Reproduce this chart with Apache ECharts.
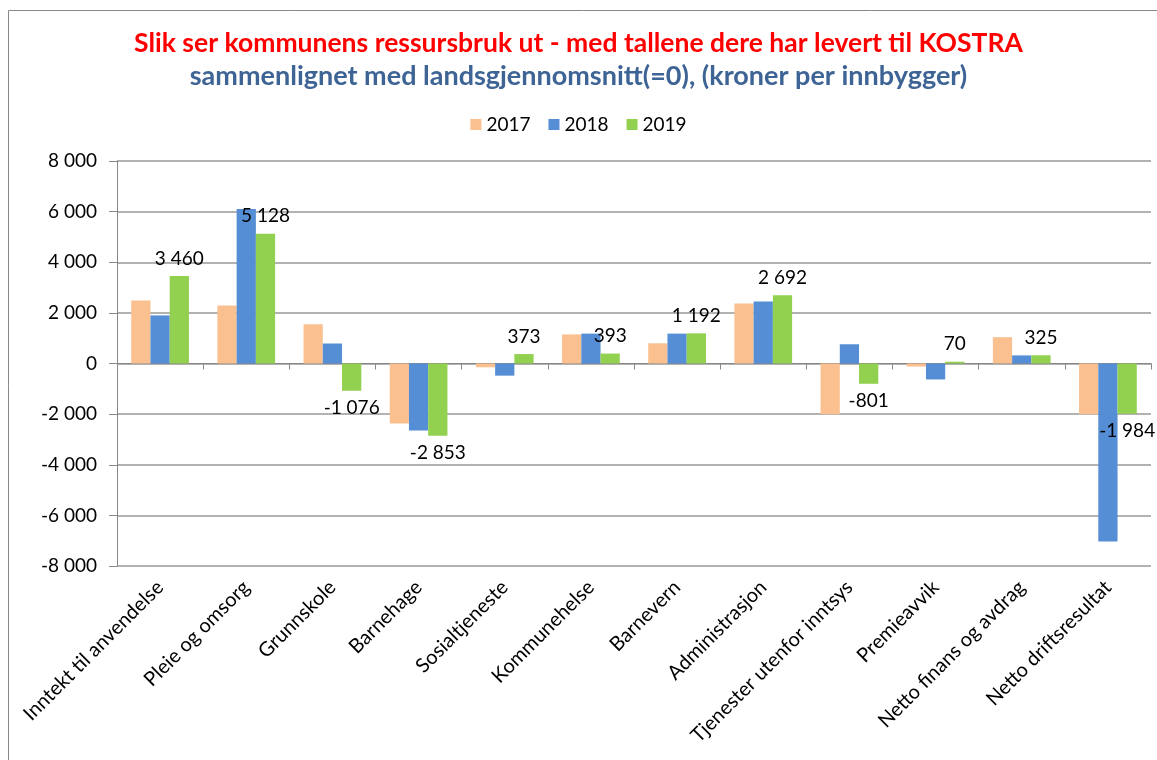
<!DOCTYPE html>
<html>
<head>
<meta charset="utf-8">
<script src="https://cdn.jsdelivr.net/npm/echarts@6/dist/echarts.min.js"></script>
<style>
    html, body { margin: 0; padding: 0; background: #fff; }
    #chart { width: 1157px; height: 760px; }
</style>
</head>
<body>
<div id="chart"></div>
<script>
// kategorier og verdier (kroner per innbygger, avvik fra landsgjennomsnitt)
const categories = ['Inntekt til anvendelse', 'Pleie og omsorg', 'Grunnskole', 'Barnehage',
    'Sosialtjeneste', 'Kommunehelse', 'Barnevern', 'Administrasjon',
    'Tjenester utenfor inntsys', 'Premieavvik', 'Netto finans og avdrag', 'Netto driftsresultat']
const years = ['2017', '2018', '2019']
const v2017 = [2490, 2290, 1550, -2370, -150, 1150, 800, 2370, -2000, -120, 1040, -2000]
const v2018 = [1900, 6100, 790, -2650, -480, 1180, 1180, 2450, 760, -630, 320, -7030]
const v2019 = [3460, 5128, -1076, -2853, 373, 393, 1192, 2692, -801, 70, 325, -1984]
const yTicks = [-8000, -6000, -4000, -2000, 0, 2000, 4000, 6000, 8000]

const colors = ['#FAC090', '#558ED5', '#92D050']
const font = 'Lato, "Open Sans", sans-serif'

// tusenskille med mellomrom, som i Excel
const fmt = (v) => {
    const s = Math.abs(v).toString().replace(/\B(?=(\d{3})+(?!\d))/g, ' ')
    return (v < 0 ? '-' : '') + s
}

const chart = echarts.init(document.getElementById('chart'))
chart.setOption({
    animation: false,
    color: colors,
    textStyle: { fontFamily: font },
    graphic: [{
        type: 'rect',
        shape: { x: 8.5, y: 10.5, width: 1300, height: 900 },
        style: { fill: 'none', stroke: '#888', lineWidth: 1 },
        silent: true
    }],
    title: [
        {
            text: 'Slik ser kommunens ressursbruk ut - med tallene dere har levert til KOSTRA',
            left: 'center', top: 25,
            textStyle: { color: '#FF0000', fontSize: 26.5, fontWeight: 'bold', fontFamily: font }
        },
        {
            text: 'sammenlignet med landsgjennomsnitt(=0), (kroner per innbygger)',
            left: 'center', top: 58,
            textStyle: { color: '#3E6496', fontSize: 27, fontWeight: 'bold', fontFamily: font }
        }
    ],
    legend: {
        data: years,
        top: 110,
        left: 'center',
        itemWidth: 11,
        itemHeight: 11,
        itemGap: 18,
        icon: 'rect',
        textStyle: { fontSize: 19, color: '#000', fontFamily: font }
    },
    grid: { left: 117, right: 6, top: 161, bottom: 194, containLabel: false },
    xAxis: {
        type: 'category',
        data: categories,
        axisLine: { onZero: true, lineStyle: { color: '#888' } },
        axisTick: { show: true, length: 6, lineStyle: { color: '#888' } },
        axisLabel: {
            interval: 0,
            rotate: 45,
            fontSize: 20,
            color: '#000',
            fontFamily: font,
            margin: 18
        },
        position: 'bottom'
    },
    yAxis: {
        type: 'value',
        min: yTicks[0],
        max: yTicks[yTicks.length - 1],
        interval: 2000,
        axisLine: { show: true, lineStyle: { color: '#888' } },
        axisTick: { show: true, length: 8, lineStyle: { color: '#888' } },
        splitLine: { lineStyle: { color: '#999', width: 1.5 } },
        axisLabel: {
            formatter: (v) => fmt(v),
            fontSize: 19,
            color: '#000',
            fontFamily: font,
            margin: 20
        }
    },
    series: [
        {
            name: years[0], type: 'bar', data: v2017,
            barGap: '0%', barCategoryGap: '33%'
        },
        {
            name: years[1], type: 'bar', data: v2018,
            barGap: '0%', barCategoryGap: '33%'
        },
        {
            name: years[2], type: 'bar',
            barGap: '0%', barCategoryGap: '33%',
            data: v2019.map((v) => ({
                value: v,
                label: { position: v < 0 ? 'bottom' : 'top' }
            })),
            label: {
                show: true,
                fontSize: 19,
                color: '#000',
                fontFamily: font,
                distance: 8,
                formatter: (p) => fmt(p.value)
            }
        }
    ]
})
</script>
</body>
</html>
